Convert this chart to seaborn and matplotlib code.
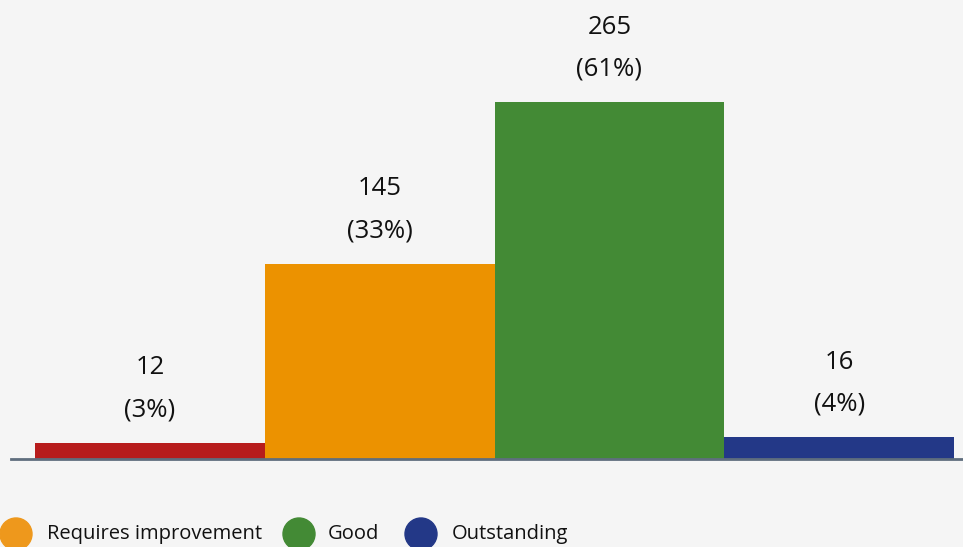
import matplotlib
matplotlib.use("Agg")
import seaborn as sns
from matplotlib import pyplot as plt
from matplotlib.patches import Ellipse

# data
categories = ["Inadequate", "Requires improvement", "Good", "Outstanding"]
counts = [12, 145, 265, 16]
percents = [3, 33, 61, 4]
colors = ["#b71c1c", "#ec9200", "#438a35", "#233887"]
legend_labels = ["Requires improvement", "Good", "Outstanding"]
legend_colors = ["#ee981c", "#438a35", "#233887"]

sns.set_style("white")
plt.rcParams["font.family"] = ["Open Sans", "DejaVu Sans"]

bg = "#f5f5f5"
fig = plt.figure(figsize=(9.63, 5.47), dpi=100, facecolor=bg)
ax = fig.add_axes([11 / 963, 88 / 547, 952 / 963, 459 / 547])
ax.set_facecolor(bg)

sns.barplot(x=categories, y=counts, hue=categories, palette=colors,
            width=1, saturation=1, legend=False, linewidth=0, ax=ax)

# x range so bars land where the reference has them
ax.set_xlim(-0.6045, 3.539)
ax.set_ylim(0, 340.8)

for i, (c, p) in enumerate(zip(counts, percents)):
    ax.annotate(str(c), xy=(i, c), xytext=(0, 75 * 0.72), textcoords="offset points",
                ha="center", va="center", fontsize=18.5, color="#111111")
    ax.annotate(f"({p}%)", xy=(i, c), xytext=(0, 33 * 0.72), textcoords="offset points",
                ha="center", va="center", fontsize=18.5, color="#111111")

for s in ["top", "right", "left"]:
    ax.spines[s].set_visible(False)
ax.spines["bottom"].set_color("#5f6e7e")
ax.spines["bottom"].set_linewidth(2)
ax.set_xticks([])
ax.set_yticks([])
ax.set_xlabel("")
ax.set_ylabel("")

# legend at the bottom, drawn by hand
circle_x = [16, 299, 421]
text_x = [47, 328, 452]
ly = 547 - 534
for cx, tx, lab, col in zip(circle_x, text_x, legend_labels, legend_colors):
    fig.add_artist(Ellipse((cx / 963, ly / 547), 32 / 963, 32 / 547,
                           transform=fig.transFigure, color=col))
    fig.text(tx / 963, ly / 547, lab, ha="left", va="center", fontsize=14.5, color="#111111")

fig.savefig("out.png", dpi=100, facecolor=bg)
